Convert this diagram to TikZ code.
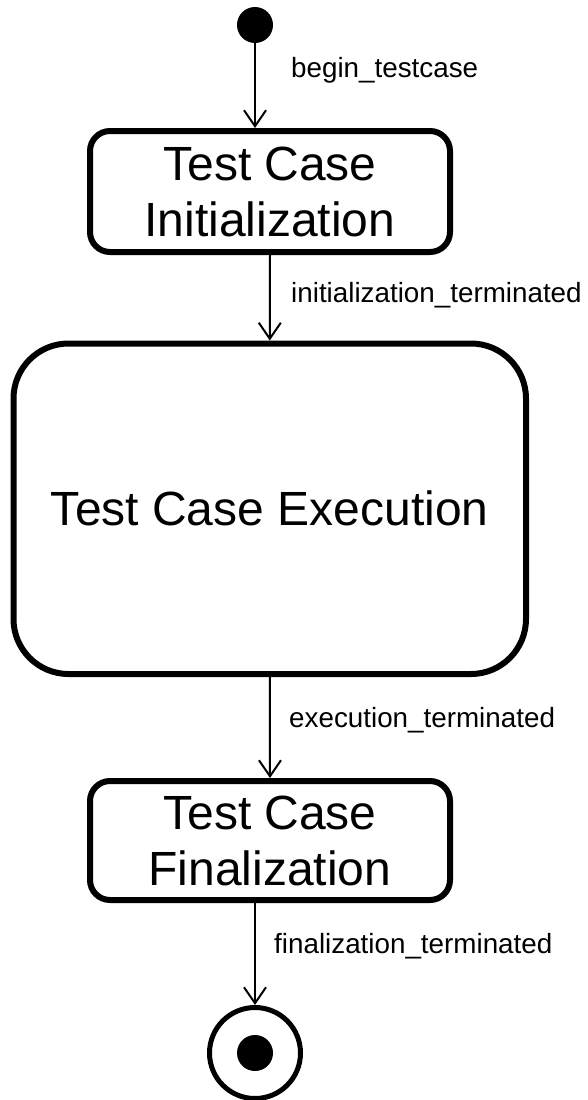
\documentclass[tikz,border=0pt]{standalone}
\usepackage{fontspec}
\setmainfont{Liberation Sans}
\usetikzlibrary{arrows.meta}
\tikzset{
  statebox/.style={draw=black, line width=6pt, fill=white, align=center, inner sep=0pt,
    font=\fontsize{48}{56}\selectfont},
  startdot/.style={circle, fill=black, draw=none, minimum size=36pt, inner sep=0pt},
  endring/.style={circle, draw=black, line width=5pt, fill=white, minimum size=91pt, inner sep=0pt},
  enddot/.style={circle, fill=black, draw=none, minimum size=36pt, inner sep=0pt},
  trans/.style={line width=2pt, -{Straight Barb[length=16pt,width=22pt,line width=2pt]}},
  tlabel/.style={anchor=base west, inner sep=0pt, font=\fontsize{27.8}{32}\selectfont}
}
\begin{document}
\begin{tikzpicture}[x=1pt, y=-1pt]
\useasboundingbox[fill=white] (0,0) rectangle (587,1100);
\node[startdot] (init) at (255,25) {};
\node[statebox, minimum width=360pt, minimum height=121pt, rounded corners=20pt] (b1) at (270,191.5) {Test Case\\Initialization};
\node[statebox, minimum width=512.5pt, minimum height=330.5pt, rounded corners=55pt] (b2) at (269.75,508.75) {Test Case Execution};
\node[statebox, minimum width=360pt, minimum height=119pt, rounded corners=20pt] (b3) at (270,840.5) {Test Case\\Finalization};
\node[endring] (fin) at (255,1053) {};
\node[enddot] (findot) at (fin.center) {};
\draw[trans] (init.south) -- (init |- b1.north);
\draw[trans] (b1.south) -- (b2.north);
\draw[trans] (b2.south) -- (b3.north);
\draw[trans] (b3.south -| fin) -- (fin.north);
\node[tlabel] (l1) at (291,77) {begin\_testcase};
\node[tlabel] (l2) at (291,302) {initialization\_terminated};
\node[tlabel] (l3) at (289,727) {execution\_terminated};
\node[tlabel] (l4) at (274,953) {finalization\_terminated};
\end{tikzpicture}
\end{document}
